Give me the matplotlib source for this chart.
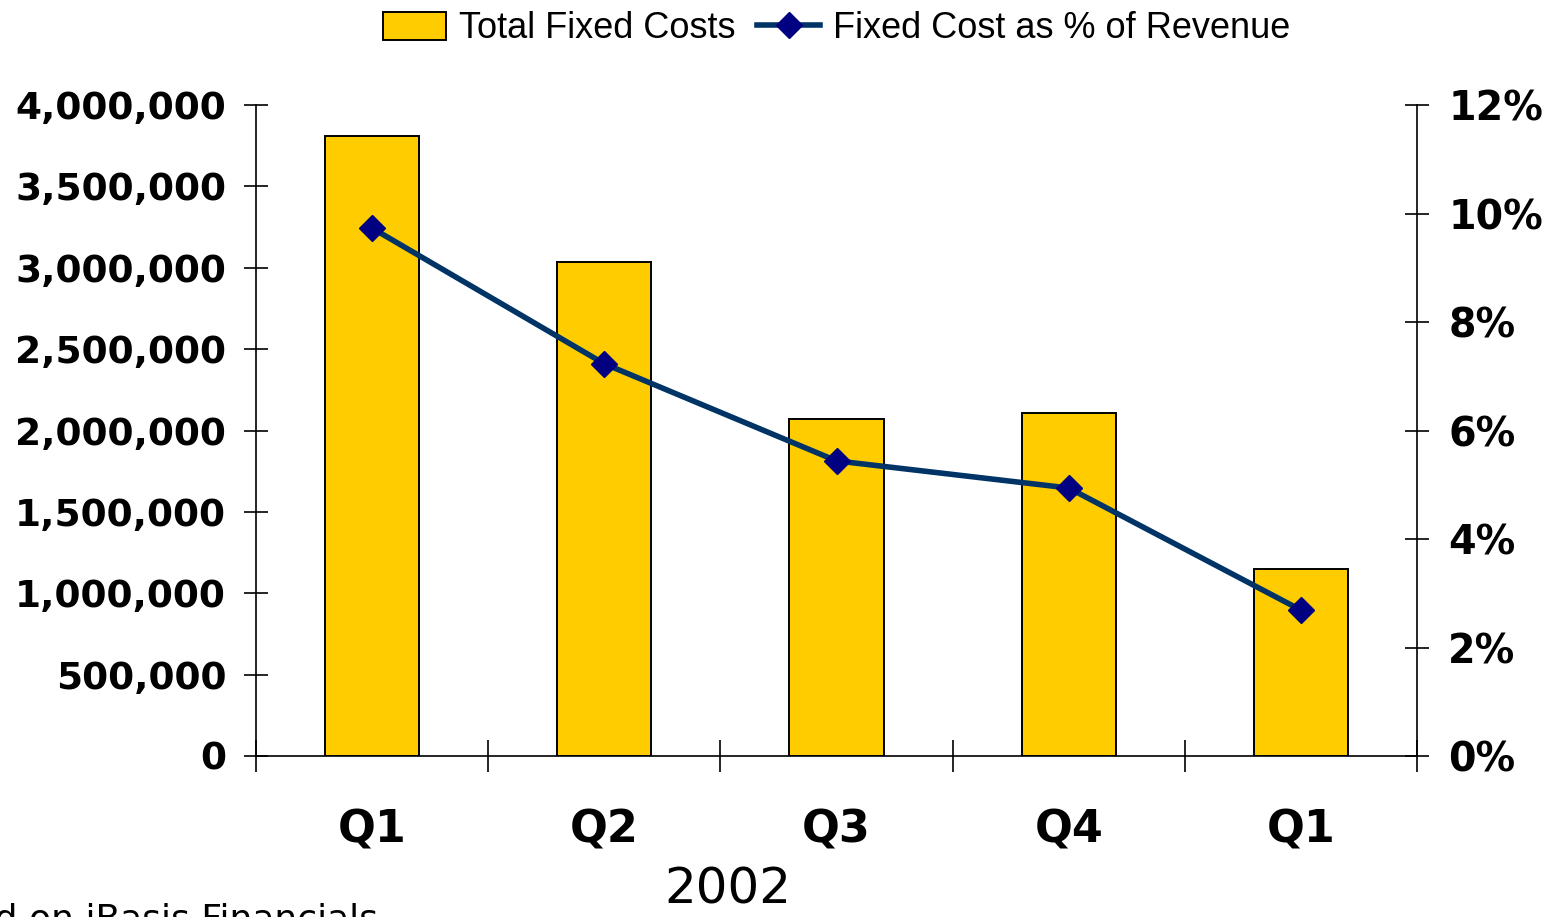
import matplotlib.pyplot as plt
import numpy as np
from matplotlib.ticker import FuncFormatter, MultipleLocator, FixedLocator

quarters = ["Q1", "Q2", "Q3", "Q4", "Q1"]
fixed_costs = [3810000, 3035000, 2070000, 2107000, 1149000]
pct_revenue = [9.73, 7.23, 5.44, 4.94, 2.69]

x = np.arange(len(quarters))

fig = plt.figure(figsize=(15.5, 9.17), dpi=100)
ax = fig.add_axes([256 / 1550, 1 - 756 / 917, (1417 - 256) / 1550, (756 - 105) / 917])
ax2 = ax.twinx()

bars = ax.bar(x, fixed_costs, width=0.405, color="#FFCC00", edgecolor="black",
              linewidth=1.4, label="Total Fixed Costs", zorder=2)
line, = ax2.plot(x, pct_revenue, color="#003366", linewidth=4, marker="D",
                 markersize=13, markerfacecolor="#000080", markeredgecolor="#000080",
                 label="Fixed Cost as % of Revenue", zorder=3)

ax.set_xlim(-0.5, len(quarters) - 0.5)
ax.set_ylim(0, 4000000)
ax2.set_ylim(0, 12)

ax.yaxis.set_major_locator(MultipleLocator(500000))
ax.yaxis.set_major_formatter(FuncFormatter(lambda v, p: f"{int(v):,}"))
ax2.yaxis.set_major_locator(MultipleLocator(2))
ax2.yaxis.set_major_formatter(FuncFormatter(lambda v, p: f"{int(v)}%"))

# category boundaries carry the ticks, labels sit on the minor ticks
ax.xaxis.set_major_locator(FixedLocator(np.arange(-0.5, len(quarters), 1.0)))
ax.xaxis.set_major_formatter(FuncFormatter(lambda v, p: ""))
ax.xaxis.set_minor_locator(FixedLocator(x))
ax.set_xticklabels(quarters, minor=True)

for a in (ax, ax2):
    a.spines["top"].set_visible(False)
    for s in a.spines.values():
        s.set_linewidth(1.2)
ax.spines["right"].set_visible(False)
ax2.spines["left"].set_visible(False)
ax2.spines["bottom"].set_visible(False)

ax.tick_params(axis="y", direction="inout", length=17, width=1.2, pad=13,
               labelsize=27)
ax2.tick_params(axis="y", direction="inout", length=17, width=1.2, pad=14,
                labelsize=28.5)
ax.tick_params(axis="x", which="major", direction="inout", length=23, width=1.2)
ax.tick_params(axis="x", which="minor", length=0, pad=38, labelsize=32)
for lab in ax.get_yticklabels() + ax2.get_yticklabels() + ax.get_xticklabels(minor=True):
    lab.set_fontweight("bold")

fig.legend(handles=[bars, line], loc="center", bbox_to_anchor=(836.5 / 1550, 1 - 29 / 917),
           ncol=2, frameon=False, prop={"family": "Liberation Sans", "size": 26},
           handlelength=1.75, handleheight=0.85, handletextpad=0.35, columnspacing=0.6)

fig.text(728 / 1550, 1 - 890 / 917, "2002", ha="center", va="center", fontsize=36)
fig.text(378 / 1550, 1 - 903 / 917, "Based on iBasis Financials", ha="right", va="top",
         fontsize=26)

fig.savefig("out.png", dpi=100)
